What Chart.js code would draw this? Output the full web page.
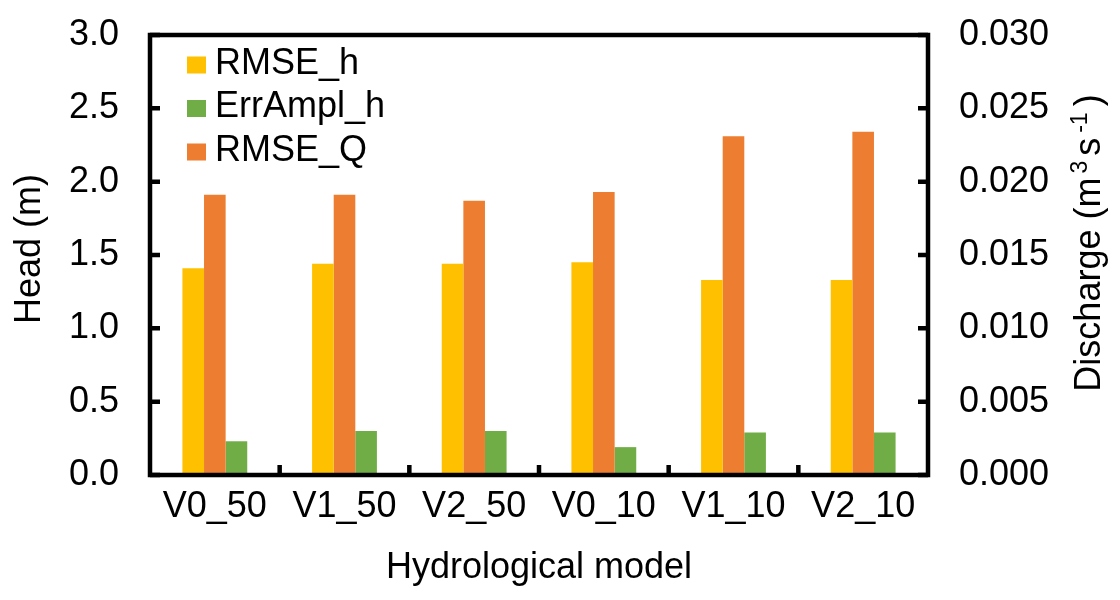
<!DOCTYPE html>
<html>
<head>
<meta charset="utf-8">
<script src="https://cdn.jsdelivr.net/npm/chart.js@4.4.1/dist/chart.umd.min.js"></script>
<style>
  html, body { margin: 0; padding: 0; background: #fff; }
  #wrap { width: 1120px; height: 600px; position: relative; }
</style>
</head>
<body>
<div id="wrap"><canvas id="c"></canvas></div>
<script>
const categories = ['V0_50', 'V1_50', 'V2_50', 'V0_10', 'V1_10', 'V2_10'];
const rmseH = [1.41, 1.44, 1.44, 1.45, 1.33, 1.33];
const errAmplH = [0.23, 0.30, 0.30, 0.19, 0.29, 0.29];
const rmseQ = [0.0191, 0.0191, 0.0187, 0.0193, 0.0231, 0.0234];
const headTickLabels = ['0.0', '0.5', '1.0', '1.5', '2.0', '2.5', '3.0'];
const dischargeTickLabels = ['0.000', '0.005', '0.010', '0.015', '0.020', '0.025', '0.030'];
const legendOrder = ['RMSE_h', 'ErrAmpl_h', 'RMSE_Q'];

const FONT = "'Liberation Sans', Arial, Helvetica, sans-serif";
Chart.defaults.font.family = FONT;
Chart.defaults.font.size = 36;
Chart.defaults.color = '#000';

const LW = 4.5;

const framePlugin = {
  id: 'frame',
  afterDatasetsDraw(chart) {
    const ctx = chart.ctx;
    const a = chart.chartArea;
    const x = chart.scales.x, y = chart.scales.y, y1 = chart.scales.y1;
    ctx.save();
    ctx.strokeStyle = '#000';
    ctx.lineWidth = LW;
    ctx.lineCap = 'butt';
    ctx.strokeRect(a.left, a.top, a.right - a.left, a.bottom - a.top);
    const tl = 10;
    ctx.beginPath();
    y.ticks.forEach(t => {
      const py = y.getPixelForValue(t.value);
      ctx.moveTo(a.left, py); ctx.lineTo(a.left + tl, py);
    });
    y1.ticks.forEach(t => {
      const py = y1.getPixelForValue(t.value);
      ctx.moveTo(a.right, py); ctx.lineTo(a.right - tl, py);
    });
    for (let i = 1; i < categories.length; i++) {
      const px = (x.getPixelForValue(i - 1) + x.getPixelForValue(i)) / 2;
      ctx.moveTo(px, a.bottom); ctx.lineTo(px, a.bottom - tl);
    }
    ctx.stroke();
    ctx.restore();
  },
  afterDraw(chart) {
    const ctx = chart.ctx;
    const a = chart.chartArea;
    ctx.save();
    // legend
    ctx.font = '36px ' + FONT;
    ctx.textBaseline = 'middle';
    ctx.textAlign = 'left';
    legendOrder.forEach((name, i) => {
      const ds = chart.data.datasets.find(d => d.label === name);
      const cy = a.top + 30 + i * 43.5;
      ctx.fillStyle = ds.backgroundColor;
      ctx.fillRect(a.left + 37, cy - 8.5, 19, 17);
      ctx.fillStyle = '#000';
      ctx.fillText(name, a.left + 65, cy - 1);
    });
    // left axis title
    ctx.save();
    ctx.translate(40, 249);
    ctx.rotate(-Math.PI / 2);
    ctx.textAlign = 'center';
    ctx.textBaseline = 'alphabetic';
    ctx.font = '36px ' + FONT;
    ctx.fillText('Head (m)', 0, 0);
    ctx.restore();
    // right axis title with superscripts
    ctx.save();
    ctx.translate(1100, 243);
    ctx.rotate(-Math.PI / 2);
    ctx.textBaseline = 'alphabetic';
    ctx.textAlign = 'left';
    const parts = [
      { t: 'Discharge (m', sup: false, gap: 4 },
      { t: '3', sup: true, gap: 5 },
      { t: 's', sup: false, gap: 5 },
      { t: '-1', sup: true, gap: 6 },
      { t: ')', sup: false, gap: 0 }
    ];
    const mainF = '36px ' + FONT, supF = '23px ' + FONT;
    let total = 0;
    parts.forEach(p => { ctx.font = p.sup ? supF : mainF; p.w = ctx.measureText(p.t).width; total += p.w + p.gap; });
    let cx = -total / 2;
    parts.forEach(p => {
      ctx.font = p.sup ? supF : mainF;
      ctx.fillText(p.t, cx, p.sup ? -13 : 0);
      cx += p.w + p.gap;
    });
    ctx.restore();
    ctx.restore();
  }
};

new Chart(document.getElementById('c'), {
  type: 'bar',
  data: {
    labels: categories,
    datasets: [
      { label: 'RMSE_h', data: rmseH, backgroundColor: '#FFC000', yAxisID: 'y' },
      { label: 'RMSE_Q', data: rmseQ, backgroundColor: '#ED7D31', yAxisID: 'y1' },
      { label: 'ErrAmpl_h', data: errAmplH, backgroundColor: '#70AD47', yAxisID: 'y' }
    ]
  },
  options: {
    responsive: true,
    maintainAspectRatio: false,
    animation: false,
    devicePixelRatio: 1,
    layout: { padding: { top: 35, left: 0, right: 0, bottom: 0 } },
    datasets: { bar: { barPercentage: 1.0, categoryPercentage: 0.5, borderWidth: 0 } },
    plugins: { legend: { display: false }, tooltip: { enabled: false } },
    scales: {
      x: {
        grid: { display: false, drawTicks: false },
        border: { display: false },
        ticks: { padding: 10, maxRotation: 0, autoSkip: false, font: { size: 36 } },
        title: { display: true, text: 'Hydrological model', font: { size: 36 }, padding: { top: 0, bottom: 10 } },
        afterFit(s) { s.height = 125; s.paddingLeft = 0; s.paddingRight = 0; }
      },
      y: {
        position: 'left',
        min: 0, max: 3,
        grid: { display: false, drawTicks: false },
        border: { display: false },
        ticks: { stepSize: 0.5, padding: 31, font: { size: 36 }, callback: (v, i) => headTickLabels[i] },
        afterFit(s) { s.width = 150; s.paddingTop = 0; s.paddingBottom = 0; }
      },
      y1: {
        position: 'right',
        min: 0, max: 0.03,
        grid: { display: false, drawTicks: false },
        border: { display: false },
        ticks: { stepSize: 0.005, padding: 31, font: { size: 36 }, callback: (v, i) => dischargeTickLabels[i] },
        afterFit(s) { s.width = 192; s.paddingTop = 0; s.paddingBottom = 0; }
      }
    }
  },
  plugins: [framePlugin]
});
</script>
</body>
</html>
